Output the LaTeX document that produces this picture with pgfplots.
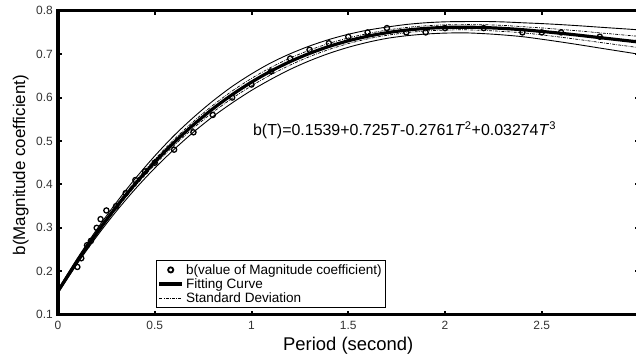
\documentclass[border=0pt]{standalone}
\usepackage{fontspec}
\setmainfont{Liberation Sans}
\usepackage{pgfplots}
\usepackage{pgfplotstable}
\pgfplotsset{compat=1.18}
\pgfplotsset{
  dot legend/.style={legend image code/.code={\draw[##1] plot coordinates {(0.4cm,0cm)};}},
  long legend/.style={legend image code/.code={\draw[##1] (0cm,0cm) -- (0.8cm,0cm);}},
}

% Fitted attenuation coefficient b(T) with +/- deviation bands
% columns: T, fit, inner upper/lower, outer upper/lower
\pgfplotstableread{
T    fit    up1    lo1    up2    lo2
0.0  0.1539 0.1559 0.1519 0.1579 0.1499
0.1  0.2237 0.2267 0.2207 0.2297 0.2177
0.2  0.2881 0.2921 0.2841 0.2961 0.2801
0.3  0.3474 0.3519 0.3429 0.3574 0.3374
0.4  0.4018 0.4073 0.3963 0.4138 0.3898
0.5  0.4515 0.4575 0.4455 0.4655 0.4375
0.6  0.4966 0.5036 0.4896 0.5126 0.4806
0.7  0.5373 0.5448 0.5298 0.5543 0.5203
0.8  0.5740 0.5820 0.5660 0.5920 0.5560
0.9  0.6066 0.6151 0.5981 0.6256 0.5876
1.0  0.6355 0.6440 0.6270 0.6545 0.6165
1.1  0.6609 0.6694 0.6524 0.6799 0.6419
1.2  0.6829 0.6909 0.6749 0.7009 0.6649
1.3  0.7017 0.7092 0.6942 0.7187 0.6847
1.4  0.7176 0.7246 0.7106 0.7336 0.7016
1.5  0.7307 0.7372 0.7242 0.7457 0.7157
1.6  0.7412 0.7472 0.7352 0.7552 0.7272
1.7  0.7493 0.7553 0.7433 0.7623 0.7363
1.8  0.7553 0.7613 0.7493 0.7683 0.7423
1.9  0.7592 0.7652 0.7532 0.7722 0.7462
2.0  0.7614 0.7674 0.7554 0.7744 0.7484
2.1  0.7620 0.7680 0.7560 0.7750 0.7490
2.2  0.7612 0.7677 0.7547 0.7752 0.7472
2.3  0.7592 0.7662 0.7522 0.7742 0.7442
2.4  0.7562 0.7632 0.7492 0.7722 0.7402
2.5  0.7523 0.7603 0.7443 0.7703 0.7343
2.6  0.7479 0.7569 0.7389 0.7679 0.7279
2.7  0.7431 0.7531 0.7331 0.7651 0.7211
2.8  0.7380 0.7490 0.7270 0.7620 0.7140
2.9  0.7330 0.7450 0.7210 0.7590 0.7070
3.0  0.7280 0.7410 0.7150 0.7560 0.7000
}\fittable

% Observed magnitude coefficients
\pgfplotstableread{
T    b
0.10 0.21
0.12 0.23
0.15 0.26
0.17 0.27
0.20 0.30
0.22 0.32
0.25 0.34
0.30 0.35
0.35 0.38
0.40 0.41
0.45 0.43
0.50 0.45
0.60 0.48
0.70 0.52
0.80 0.56
0.90 0.60
1.00 0.63
1.10 0.66
1.20 0.69
1.30 0.71
1.40 0.725
1.50 0.74
1.60 0.75
1.70 0.76
1.80 0.75
1.90 0.75
2.00 0.76
2.20 0.76
2.40 0.75
2.50 0.75
2.60 0.75
2.80 0.74
3.00 0.73
}\bdata

\begin{document}
\begin{tikzpicture}
\begin{axis}[
  at={(58bp,43.3bp)}, anchor=south west,
  scale only axis,
  width=580.5bp, height=304bp,
  xmin=0, xmax=3, ymin=0.1, ymax=0.8,
  xtick={0,0.5,1,1.5,2,2.5},
  xticklabels={0,0.5,1,1.5,2,2.5},
  ytick={0.1,0.2,0.3,0.4,0.5,0.6,0.7,0.8},
  yticklabels={0.1,0.2,0.3,0.4,0.5,0.6,0.7,0.8},
  tick align=inside,
  major tick length=4bp,
  every tick/.style={black, line width=2bp},
  axis line style={black, line width=3bp},
  ticklabel style={font=\fontsize{12}{14}\selectfont, text=black!80},
  xticklabel style={inner sep=1bp, yshift=-5bp},
  yticklabel style={inner sep=1bp, xshift=-4bp},
  xlabel={Period (second)},
  ylabel={b(Magnitude coefficient)},
  xlabel style={at={(rel axis cs:0.5,0)}, anchor=base, yshift=-35.3bp,
    font=\fontsize{18.5}{20}\selectfont},
  ylabel style={at={(rel axis cs:-0.0568,0.492)}, anchor=base,
    font=\fontsize{17}{19}\selectfont},
  legend cell align=left,
  legend style={at={(rel axis cs:0.168,0.022)}, anchor=south west,
    draw=black, line width=0.7bp, inner sep=1.5bp, row sep=-1bp,
    font=\fontsize{13.6}{15}\selectfont},
]
% legend entries
\addlegendimage{dot legend, only marks, mark=o, mark size=2.6bp, line width=1.8bp}
\addlegendentry{b(value of Magnitude coefficient)}
\addlegendimage{long legend, black, line width=4bp}
\addlegendentry{Fitting Curve}
\addlegendimage{long legend, black, line width=0.7bp, dash pattern=on 3bp off 1.2bp on 0.8bp off 1.2bp}
\addlegendentry{Standard Deviation}

% deviation bands
\addplot[forget plot, black, line width=0.9bp, smooth] table[x=T, y=up2] {\fittable};
\addplot[forget plot, black, line width=0.9bp, smooth] table[x=T, y=lo2] {\fittable};
\addplot[forget plot, black, line width=0.7bp, smooth,
  dash pattern=on 3bp off 1.2bp on 0.8bp off 1.2bp] table[x=T, y=up1] {\fittable};
\addplot[forget plot, black, line width=0.7bp, smooth,
  dash pattern=on 3bp off 1.2bp on 0.8bp off 1.2bp] table[x=T, y=lo1] {\fittable};
% fitted curve
\addplot[forget plot, black, line width=3.2bp, smooth] table[x=T, y=fit] {\fittable};
% observations
\addplot[forget plot, only marks, mark=o, mark size=2.6bp,
  mark options={line width=1.3bp, fill=white}] table[x=T, y=b] {\bdata};

\node[anchor=west, font=\fontsize{16}{18}\selectfont] at (axis cs:0.99,0.525)
  {b(T)=0.1539+0.725\textit{T}-0.2761\textit{T}\textsuperscript{2}+0.03274\textit{T}\textsuperscript{3}};
\end{axis}
\pgfresetboundingbox
\path[use as bounding box] (0,0) rectangle (636bp,358bp);
\end{tikzpicture}
\end{document}
